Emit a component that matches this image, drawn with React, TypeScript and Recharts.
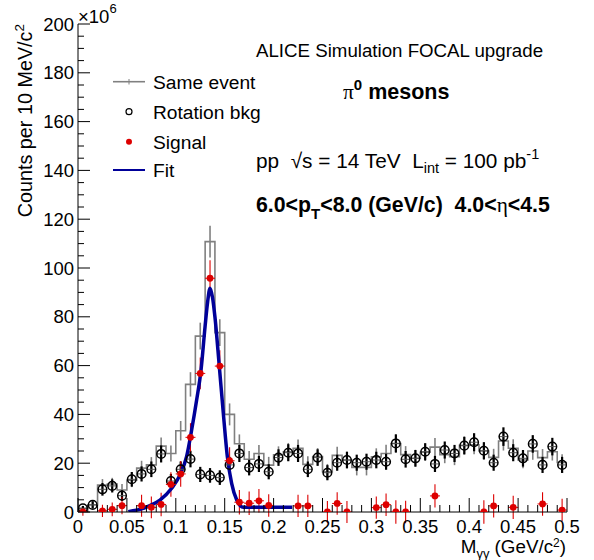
import React from 'react';
import { ComposedChart, Line, Scatter, XAxis, YAxis, ErrorBar } from 'recharts';

// bin centres, 10 MeV/c^2 bins (GeV/c^2)
const massBins = [
  0.005, 0.015, 0.025, 0.035, 0.045, 0.055, 0.065, 0.075, 0.085, 0.095,
  0.105, 0.115, 0.125, 0.135, 0.145, 0.155, 0.165, 0.175, 0.185, 0.195,
  0.205, 0.215, 0.225, 0.235, 0.245, 0.255, 0.265, 0.275, 0.285, 0.295,
  0.305, 0.315, 0.325, 0.335, 0.345, 0.355, 0.365, 0.375, 0.385, 0.395,
  0.405, 0.415, 0.425, 0.435, 0.445, 0.455, 0.465, 0.475, 0.485, 0.495,
];

// counts x10^6
const sameEvent = [
  1.5, 3, 11, 11.5, 9, 13, 18, 19.3, 27, 24,
  33.3, 52.3, 72.1, 110.8, 73.5, 40, 28, 21.6, 24, 19.2,
  23.4, 24.7, 26.1, 19.5, 22.7, 16.5, 23.2, 21.3, 18.3, 18.3,
  22.6, 24, 28.1, 23.5, 22, 24.5, 26.6, 23.5, 22.7, 27.3,
  27.5, 25, 22.4, 29.1, 26.1, 21.3, 25, 22.3, 24.7, 20.3,
];
const sameEventErr = [
  1, 1.5, 2.5, 2.5, 2.5, 2.8, 3, 3.2, 3.5, 3.3,
  4, 5, 5.5, 6.5, 5.5, 4.5, 3.8, 3.4, 3.5, 3.4,
  3.5, 3.6, 3.6, 3.3, 3.5, 3.2, 3.5, 3.4, 3.3, 3.3,
  3.5, 3.6, 3.8, 3.5, 3.5, 3.6, 3.7, 3.5, 3.5, 3.7,
  3.8, 3.6, 3.5, 3.9, 3.7, 3.4, 3.6, 3.5, 3.6, 3.4,
];

const rotationBkg = [
  1.5, 2.9, 9.3, 10.7, 6.7, 13.4, 15.6, 17.5, 23.8, 12.7,
  17.5, 21.7, 15.4, 15, 14.1, 19.3, 24, 18.2, 19.7, 16.5,
  22.3, 24.3, 24, 17.5, 22.3, 16.1, 20.2, 21.3, 20.2, 20.6,
  21.3, 20.6, 28.1, 21.6, 22, 24.7, 19.7, 25.4, 24, 27.2,
  28.6, 25.1, 20.2, 30.9, 24.3, 22, 27.9, 19.3, 26.8, 19.3,
];
const rotationErr = [
  1, 1.5, 2.6, 2.7, 2.2, 3, 3.1, 3.2, 3.5, 2.9,
  3.2, 3.4, 3.1, 3, 3, 3.3, 3.5, 3.2, 3.3, 3.1,
  3.4, 3.5, 3.5, 3.2, 3.4, 3.1, 3.3, 3.4, 3.3, 3.3,
  3.4, 3.3, 3.7, 3.4, 3.4, 3.5, 3.3, 3.5, 3.5, 3.6,
  3.7, 3.5, 3.3, 3.8, 3.5, 3.4, 3.6, 3.3, 3.6, 3.3,
];

// null = below zero, not drawn
const signal = [
  0, null, 0.5, 1.1, 2.6, null, 2.6, 1.9, 3.1, 11.3,
  15.6, 30.6, 56.8, 95.8, 59.8, 21, 4, 3.6, 4.6, 2.7,
  null, null, 2.5, 2.5, null, 0, 3.5, 0, null, null,
  1.8, 3, 0, 0, null, null, 6.6, null, null, null,
  null, 0, 2.5, null, 1.9, null, null, 3.3, null, 0.8,
];
const signalErr = [
  1.5, 0, 2.5, 2.8, 3.5, 0, 4.5, 4.5, 4.8, 5,
  5.3, 5.8, 6.5, 7.4, 6.5, 5.5, 5, 4.8, 4.8, 4.6,
  0, 0, 4.6, 4.6, 0, 4.5, 4.6, 4.5, 0, 0,
  4.6, 4.6, 4.8, 4.6, 0, 0, 4.8, 0, 0, 0,
  0, 4.8, 4.8, 0, 4.8, 0, 0, 4.8, 0, 4.6,
];

// fit curve
const fitMass = [
  0.0515, 0.055, 0.0634, 0.0735, 0.0838, 0.0958, 0.1043, 0.111, 0.1162, 0.1213,
  0.1258, 0.1299, 0.1325, 0.135, 0.1375, 0.14, 0.1445, 0.1486, 0.1527, 0.1571,
  0.1623, 0.169, 0.18, 0.2, 0.219,
];
const fitCounts = [
  0.1, 0.4, 1.1, 2.6, 4.9, 9.7, 15.2, 22.7, 33.6, 45.9,
  58.2, 75.9, 86, 91.7, 88, 80, 59.6, 40.4, 22.7, 11.7,
  4.9, 1.9, 1.9, 1.9, 1.9,
];

const xMajorTicks = [0, 0.05, 0.1, 0.15, 0.2, 0.25, 0.3, 0.35, 0.4, 0.45, 0.5];
const xTickLabels = ['0', '0.05', '0.1', '0.15', '0.2', '0.25', '0.3', '0.35', '0.4', '0.45', '0.5'];
const yMajorTicks = [0, 20, 40, 60, 80, 100, 120, 140, 160, 180, 200];
const yTickLabels = ['0', '20', '40', '60', '80', '100', '120', '140', '160', '180', '200'];

const FONT = '"Liberation Sans", Arial, Helvetica, sans-serif';
const GRAY = '#808080';
const RED = '#dd0000';
const BLUE = '#000099';

// minor ticks: 5 per major on x, 4 per major on y
const xTicks: number[] = [];
for (let i = 0; i <= 50; i++) xTicks.push(i / 100);
const yTicks: number[] = [];
for (let v = 0; v <= 200; v += 5) yTicks.push(v);

const histSteps = massBins
  .map((m, i) => ({ x: Math.round((m - 0.005) * 1000) / 1000, y: sameEvent[i] }))
  .concat([{ x: 0.5, y: sameEvent[sameEvent.length - 1] }]);
const samePts = massBins.map((m, i) => ({ x: m, y: sameEvent[i], err: sameEventErr[i] }));
const rotPts = massBins.map((m, i) => ({ x: m, y: rotationBkg[i], err: rotationErr[i] }));
const sigPts = massBins
  .map((m, i) => ({ x: m, y: signal[i], err: signalErr[i] }))
  .filter((p) => p.y !== null);
const fitPts = fitMass.map((m, i) => ({ x: m, y: fitCounts[i] }));

const findLabel = (ticks: number[], labels: string[], v: number) => {
  const i = ticks.findIndex((t) => Math.abs(t - v) < 1e-6);
  return i >= 0 ? labels[i] : null;
};

const BottomTick = (props: any) => {
  const { x, y, payload } = props;
  const label = findLabel(xMajorTicks, xTickLabels, payload.value);
  return (
    <g>
      <line x1={x} x2={x} y1={y} y2={y - (label ? 14 : 7)} stroke="#000" strokeWidth={1} />
      {label && (
        <text x={x} y={y + 21} textAnchor="middle" fontSize={18.5} fontFamily={FONT} fill="#000">
          {label}
        </text>
      )}
    </g>
  );
};

const TopTick = (props: any) => {
  const { x, y, payload } = props;
  const major = findLabel(xMajorTicks, xTickLabels, payload.value) !== null;
  return <line x1={x} x2={x} y1={y} y2={y + (major ? 13 : 6.5)} stroke="#000" strokeWidth={1} />;
};

const LeftTick = (props: any) => {
  const { x, y, payload } = props;
  const label = findLabel(yMajorTicks, yTickLabels, payload.value);
  return (
    <g>
      <line x1={x} x2={x + (label ? 12 : 6)} y1={y} y2={y} stroke="#000" strokeWidth={1} />
      {label && (
        <text x={x - 4} y={y + 6.5} textAnchor="end" fontSize={18.5} fontFamily={FONT} fill="#000">
          {label}
        </text>
      )}
    </g>
  );
};

const RightTick = (props: any) => {
  const { x, y, payload } = props;
  const major = findLabel(yMajorTicks, yTickLabels, payload.value) !== null;
  return <line x1={x} x2={x - (major ? 12 : 6)} y1={y} y2={y} stroke="#000" strokeWidth={1} />;
};

const NoMarker = () => <g />;

const OpenCircle = (props: any) => {
  const { cx, cy } = props;
  return (
    <g>
      <line x1={cx - 4.5} x2={cx + 4.5} y1={cy} y2={cy} stroke="#555" strokeWidth={1} />
      <circle cx={cx} cy={cy} r={4.3} fill="none" stroke="#000" strokeWidth={1.5} />
    </g>
  );
};

const RedDot = (props: any) => {
  const { cx, cy } = props;
  return (
    <g>
      <line x1={cx - 5} x2={cx + 5} y1={cy} y2={cy} stroke={RED} strokeWidth={1} />
      <circle cx={cx} cy={cy} r={3.4} fill={RED} />
    </g>
  );
};

export default function App() {
  return (
    <div style={{ position: 'absolute', left: 0, top: 0, width: 594, height: 560, background: '#fff' }}>
      <ComposedChart
        width={594}
        height={560}
        margin={{ top: 24, right: 27, bottom: 18, left: 28 }}
        style={{ fontFamily: FONT }}
      >
        <XAxis
          xAxisId="b"
          dataKey="x"
          type="number"
          domain={[0, 0.5]}
          allowDataOverflow
          ticks={xTicks}
          interval={0}
          height={30}
          tickSize={0}
          tickMargin={0}
          tickLine={false}
          axisLine={{ stroke: '#000', strokeWidth: 1 }}
          tick={<BottomTick />}
        />
        <XAxis
          xAxisId="t"
          dataKey="x"
          type="number"
          orientation="top"
          domain={[0, 0.5]}
          allowDataOverflow
          ticks={xTicks}
          interval={0}
          height={0}
          tickSize={0}
          tickMargin={0}
          tickLine={false}
          axisLine={{ stroke: '#000', strokeWidth: 1 }}
          tick={<TopTick />}
        />
        <YAxis
          yAxisId="l"
          dataKey="y"
          type="number"
          domain={[0, 200]}
          allowDataOverflow
          ticks={yTicks}
          interval={0}
          width={50}
          tickSize={0}
          tickMargin={0}
          tickLine={false}
          axisLine={{ stroke: '#000', strokeWidth: 1 }}
          tick={<LeftTick />}
        />
        <YAxis
          yAxisId="r"
          dataKey="y"
          type="number"
          orientation="right"
          domain={[0, 200]}
          allowDataOverflow
          ticks={yTicks}
          interval={0}
          width={0}
          tickSize={0}
          tickMargin={0}
          tickLine={false}
          axisLine={{ stroke: '#000', strokeWidth: 1 }}
          tick={<RightTick />}
        />

        <Line
          xAxisId="b"
          yAxisId="l"
          data={histSteps}
          dataKey="y"
          type="stepAfter"
          stroke={GRAY}
          strokeWidth={1.6}
          dot={false}
          isAnimationActive={false}
        />
        <Scatter xAxisId="b" yAxisId="l" data={samePts} shape={<NoMarker />} isAnimationActive={false}>
          <ErrorBar dataKey="err" direction="y" width={0} stroke={GRAY} strokeWidth={1.6} />
        </Scatter>
        <Scatter xAxisId="b" yAxisId="l" data={rotPts} shape={<OpenCircle />} isAnimationActive={false}>
          <ErrorBar dataKey="err" direction="y" width={0} stroke="#000" strokeWidth={2.2} />
        </Scatter>
        <Scatter xAxisId="b" yAxisId="l" data={sigPts} shape={<RedDot />} isAnimationActive={false}>
          <ErrorBar dataKey="err" direction="y" width={0} stroke={RED} strokeWidth={1.1} />
        </Scatter>
        <Line
          xAxisId="b"
          yAxisId="l"
          data={fitPts}
          dataKey="y"
          type="monotone"
          stroke={BLUE}
          strokeWidth={3.5}
          dot={false}
          isAnimationActive={false}
        />
      </ComposedChart>

      <svg
        width={594}
        height={560}
        style={{ position: 'absolute', left: 0, top: 0, pointerEvents: 'none' }}
        fontFamily={FONT}
      >
        {/* exponent */}
        <text x={78} y={23} fontSize={18.5} fill="#000">
          ×10<tspan dy={-10} fontSize={13}>6</tspan>
        </text>

        {/* axis titles */}
        <text transform="translate(32,24) rotate(-90)" textAnchor="end" fontSize={19.8} fill="#000">
          Counts per 10 MeV/c<tspan dy={-8} fontSize={13.5}>2</tspan>
        </text>
        <text x={566} y={553} textAnchor="end" fontSize={18.8} fill="#000">
          M<tspan dy={5} fontSize={13}>γγ</tspan>
          <tspan dy={-5}> (GeV/c</tspan>
          <tspan dy={-6.5} fontSize={12}>2</tspan>
          <tspan dy={6.5}>)</tspan>
        </text>

        {/* legend */}
        <line x1={113} x2={145} y1={81.7} y2={81.7} stroke={GRAY} strokeWidth={1.6} />
        <line x1={129} x2={129} y1={79} y2={84.5} stroke={GRAY} strokeWidth={1} />
        <text x={153} y={88.5} fontSize={19.2} fill="#000">Same event</text>
        <circle cx={129} cy={111.7} r={3} fill="none" stroke="#000" strokeWidth={1.2} />
        <text x={153} y={118.5} fontSize={19.2} fill="#000">Rotation bkg</text>
        <circle cx={129} cy={141.7} r={3} fill={RED} />
        <text x={153} y={148.5} fontSize={19.2} fill="#000">Signal</text>
        <line x1={113} x2={145} y1={170} y2={170} stroke={BLUE} strokeWidth={2} />
        <text x={153} y={177} fontSize={19.2} fill="#000">Fit</text>

        {/* labels */}
        <text x={256} y={57} fontSize={18.7} fill="#000">ALICE Simulation FOCAL upgrade</text>
        <text x={343} y={98.5} fontSize={21.5} fill="#000" fontWeight="bold">
          <tspan fontFamily='"Liberation Serif", serif' fontWeight="normal">π</tspan>
          <tspan dy={-9} fontSize={15}>0</tspan>
          <tspan dy={9}> mesons</tspan>
        </text>
        <text x={256} y={167.5} fontSize={20.8} fill="#000" style={{ whiteSpace: 'pre' }}>
          pp  √s = 14 TeV  L<tspan dy={5} fontSize={14.5}>int</tspan>
          <tspan dy={-5}> = 100 pb</tspan>
          <tspan dy={-9} fontSize={14.5}>-1</tspan>
        </text>
        <text x={256} y={211.5} fontSize={21.3} fill="#000" fontWeight="bold" style={{ whiteSpace: 'pre' }}>
          6.0&lt;p<tspan dy={7} fontSize={15}>T</tspan>
          <tspan dy={-7}>&lt;8.0 (GeV/c)  4.0&lt;</tspan>
          <tspan fontFamily='"Liberation Serif", serif' fontWeight="normal">η</tspan>
          <tspan>&lt;4.5</tspan>
        </text>
      </svg>
    </div>
  );
}
